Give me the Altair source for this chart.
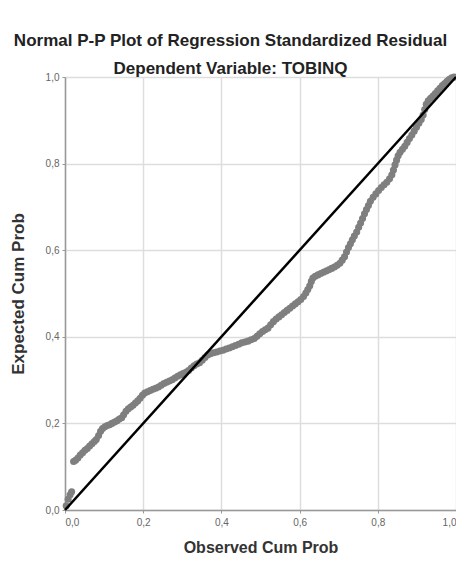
import altair as alt
import pandas as pd

observed = [0.003,0.008,0.013,0.017,
0.022,0.027,0.033,0.039,0.045,0.051,0.057,0.063,0.069,0.075,0.080,0.086,0.091,0.096,0.102,0.108,0.114,0.120,0.127,0.133,0.139,0.145,0.150,0.156,0.162,0.168,0.174,0.180,0.186,0.192,0.198,0.204,0.211,0.218,0.225,0.232,0.239,0.246,0.253,0.260,0.267,0.274,0.281,0.288,0.295,0.302,0.309,0.316,0.323,0.330,0.337,0.344,0.351,0.358,0.365,0.372,0.380,0.388,0.396,0.404,0.412,0.420,0.428,0.436,0.444,0.452,0.460,0.468,0.476,0.484,0.491,0.498,0.505,0.512,0.519,0.526,0.533,0.540,0.547,0.554,0.561,0.568,0.575,0.582,0.589,0.596,0.603,0.610,0.616,0.621,0.626,0.630,0.634,0.640,0.647,0.654,0.661,0.668,0.675,0.682,0.689,0.696,0.703,0.709,0.715,0.720,0.725,0.730,0.735,0.740,0.746,0.751,0.756,0.761,0.766,0.771,0.776,0.781,0.788,0.795,0.802,0.809,0.816,0.823,0.830,0.836,0.840,0.844,0.848,0.852,0.857,0.863,0.869,0.875,0.881,0.887,0.893,0.899,0.905,0.911,0.916,0.920,0.924,0.929,0.935,0.941,0.947,0.953,0.959,0.965,0.971,0.977,0.983,0.989,0.995]

expected = [0.010,0.025,0.035,0.042,
0.112,0.115,0.120,0.127,0.132,0.138,0.142,0.148,0.153,0.158,0.163,0.172,0.182,0.188,0.192,0.195,0.197,0.200,0.203,0.206,0.210,0.213,0.220,0.228,0.234,0.238,0.242,0.247,0.252,0.258,0.265,0.270,0.273,0.276,0.279,0.281,0.284,0.288,0.292,0.295,0.298,0.301,0.305,0.309,0.312,0.315,0.318,0.322,0.328,0.333,0.337,0.340,0.346,0.352,0.358,0.361,0.363,0.365,0.367,0.369,0.372,0.374,0.377,0.380,0.383,0.386,0.388,0.390,0.393,0.396,0.401,0.407,0.412,0.416,0.420,0.428,0.435,0.441,0.446,0.451,0.456,0.461,0.466,0.471,0.476,0.481,0.486,0.493,0.501,0.509,0.518,0.528,0.536,0.540,0.543,0.546,0.549,0.552,0.555,0.558,0.561,0.565,0.570,0.577,0.585,0.596,0.606,0.615,0.624,0.633,0.642,0.653,0.663,0.673,0.684,0.694,0.703,0.713,0.722,0.730,0.738,0.745,0.751,0.757,0.765,0.774,0.785,0.797,0.808,0.818,0.826,0.833,0.840,0.849,0.858,0.866,0.875,0.884,0.893,0.902,0.912,0.925,0.937,0.945,0.951,0.956,0.962,0.968,0.974,0.980,0.985,0.990,0.995,0.998,1.000]

ref_x = [0.0, 1.0]
ref_y = [0.0, 1.0]
ticks = [0.0, 0.2, 0.4, 0.6, 0.8, 1.0]

pts = pd.DataFrame({"obs": observed, "exp": expected})
ref = pd.DataFrame({"obs": ref_x, "exp": ref_y})

label_expr = "replace(format(datum.value, '.1f'), '.', ',')"

x_enc = alt.X("obs:Q", scale=alt.Scale(domain=[0, 1], nice=False),
              axis=alt.Axis(title="Observed Cum Prob", values=ticks, labelExpr=label_expr,
                            titlePadding=12, titleFontSize=16))
y_enc = alt.Y("exp:Q", scale=alt.Scale(domain=[0, 1], nice=False),
              axis=alt.Axis(title="Expected Cum Prob", values=ticks, labelExpr=label_expr,
                            titlePadding=18, titleFontSize=17))

points = alt.Chart(pts).mark_circle(size=50, color="#7f7f7f", opacity=1).encode(x=x_enc, y=y_enc)
line = alt.Chart(ref).mark_line(color="#000000", strokeWidth=2.5).encode(x="obs:Q", y="exp:Q")

chart = (points + line).properties(
    width=391, height=433,
    autosize=alt.AutoSizeParams(type="none"),
    padding={"left": 57, "top": 69, "right": 0, "bottom": 46},
    title=alt.TitleParams(
        text="Normal P-P Plot of Regression Standardized Residual",
        subtitle="Dependent Variable: TOBINQ",
        font="Liberation Sans", fontSize=17, fontWeight="bold", color="#222222",
        subtitleFont="Liberation Sans", subtitleFontSize=17, subtitleFontWeight="bold",
        subtitleColor="#222222", subtitlePadding=11, anchor="middle", offset=-6, dx=-30,
    ),
).configure_view(stroke=None).configure_axis(
    grid=True, gridColor="#dddddd", gridWidth=1.5,
    domainColor="#999999", domainWidth=1.5,
    tickColor="#999999", tickSize=3,
    labelFont="Liberation Sans", labelFontSize=10, labelColor="#666666",
    titleFont="Liberation Sans", titleFontWeight="bold", titleColor="#333333",
).configure_axisY(labelPadding=3).configure_axisX(labelPadding=4)

chart.save("out.html", embed_options={"renderer": "svg", "actions": False})
